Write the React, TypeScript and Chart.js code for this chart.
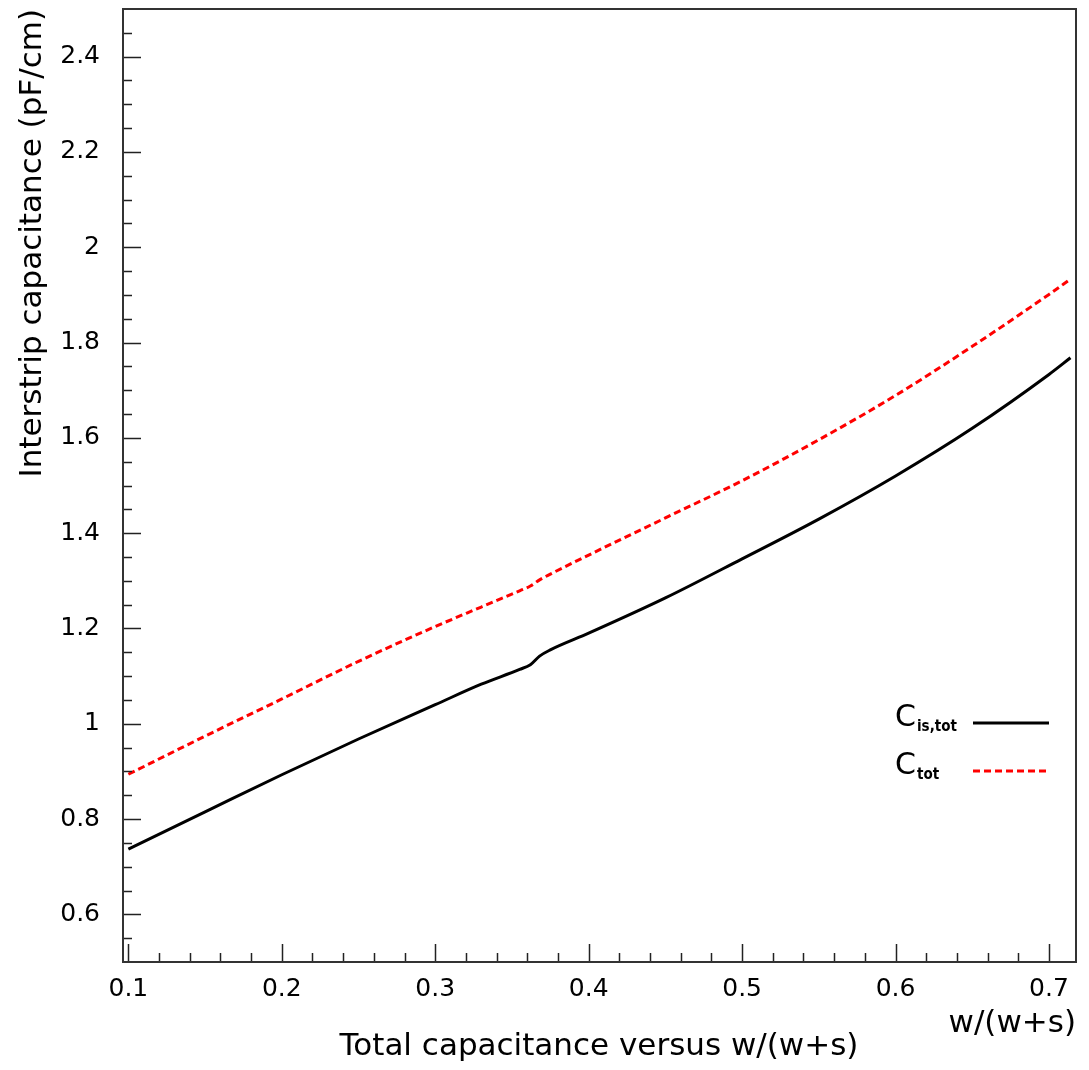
import React, { useEffect, useRef } from 'react';
import { Chart, registerables } from 'chart.js';

Chart.register(...registerables);

// ---- data ----
const xValues = [0.1, 0.15, 0.2, 0.25, 0.3, 0.33, 0.355, 0.362, 0.368, 0.375, 0.4, 0.45, 0.5, 0.55, 0.6, 0.65, 0.7, 0.714];
const cIsTot = [0.737, 0.815, 0.893, 0.968, 1.04, 1.083, 1.114, 1.124, 1.142, 1.155, 1.19, 1.264, 1.346, 1.4295, 1.52, 1.62, 1.733, 1.768];
const cTot = [0.894, 0.974, 1.052, 1.131, 1.204, 1.245, 1.279, 1.289, 1.302, 1.314, 1.354, 1.432, 1.51, 1.596, 1.689, 1.792, 1.901, 1.933];

const xMajorTicks = [0.1, 0.2, 0.3, 0.4, 0.5, 0.6, 0.7];
const yMajorTicks = [0.6, 0.8, 1, 1.2, 1.4, 1.6, 1.8, 2, 2.2, 2.4];
const xMin = 0.0965;
const xMax = 0.7176;
const yMin = 0.5;
const yMax = 2.5;
const xMinorStep = 0.02;
const yMinorStep = 0.05;

const xTitle = 'w/(w+s)';
const yTitle = 'Interstrip capacitance (pF/cm)';
const plotTitle = 'Total capacitance versus w/(w+s)';

const FONT = '"DejaVu Sans", sans-serif';

const rootPlugin = {
  id: 'rootStyle',
  afterDatasetsDraw(chart: any) {
    const { ctx, chartArea: a, scales } = chart;
    const sx = scales.x;
    const sy = scales.y;
    ctx.save();
    ctx.strokeStyle = '#222';
    ctx.lineWidth = 1.5;
    ctx.beginPath();
    const isMajor = (arr: number[], v: number) => arr.some((m) => Math.abs(m - v) < 1e-6);
    for (let i = Math.ceil(yMin / yMinorStep); i * yMinorStep <= yMax + 1e-9; i++) {
      const v = i * yMinorStep;
      if (v <= yMin + 1e-9 || v >= yMax - 1e-9) continue;
      const len = isMajor(yMajorTicks, v) ? 18 : 9;
      const py = Math.round(sy.getPixelForValue(v)) + 0.5;
      ctx.moveTo(a.left, py);
      ctx.lineTo(a.left + len, py);
    }
    for (let i = Math.ceil(xMin / xMinorStep); i * xMinorStep <= xMax + 1e-9; i++) {
      const v = i * xMinorStep;
      if (v <= xMin || v >= xMax) continue;
      const len = isMajor(xMajorTicks, v) ? 18 : 9;
      const px = Math.round(sx.getPixelForValue(v)) + 0.5;
      ctx.moveTo(px, a.bottom);
      ctx.lineTo(px, a.bottom - len);
    }
    ctx.stroke();
    ctx.strokeStyle = '#333';
    ctx.lineWidth = 2;
    ctx.strokeRect(a.left, a.top, a.right - a.left, a.bottom - a.top);
    ctx.restore();
  },
  afterDraw(chart: any) {
    const { ctx, chartArea: a } = chart;
    ctx.save();
    ctx.fillStyle = '#000';
    ctx.font = `31px ${FONT}`;
    ctx.save();
    ctx.translate(33, a.top);
    ctx.rotate(-Math.PI / 2);
    ctx.textAlign = 'right';
    ctx.textBaseline = 'middle';
    ctx.fillText(yTitle, 0, 0);
    ctx.restore();
    ctx.textAlign = 'right';
    ctx.textBaseline = 'alphabetic';
    ctx.fillText(xTitle, a.right, 1032);
    ctx.textAlign = 'center';
    ctx.fillText(plotTitle, 599, 1055);

    const entries = [
      { sub: 'is,tot', y: 723, color: '#000', dash: [] as number[] },
      { sub: 'tot', y: 771, color: '#ff0000', dash: [7, 4] },
    ];
    for (const e of entries) {
      ctx.textAlign = 'left';
      ctx.font = `30px ${FONT}`;
      ctx.fillStyle = '#000';
      ctx.fillText('C', 895, e.y + 3);
      ctx.font = `bold 15px "DejaVu Sans Condensed", ${FONT}`;
      ctx.fillText(e.sub, 917, e.y + 8);
      ctx.beginPath();
      ctx.strokeStyle = e.color;
      ctx.lineWidth = 3;
      ctx.setLineDash(e.dash);
      ctx.moveTo(973, e.y);
      ctx.lineTo(1049, e.y);
      ctx.stroke();
      ctx.setLineDash([]);
    }
    ctx.restore();
  },
};

const fmt = (v: any) => String(Number(Number(v).toFixed(2)));

const noPad = (s: any) => {
  s.paddingTop = 0;
  s.paddingBottom = 0;
  s.paddingLeft = 0;
  s.paddingRight = 0;
};

export default function App() {
  const ref = useRef<HTMLCanvasElement | null>(null);
  useEffect(() => {
    document.body.style.margin = '0';
    const canvas = ref.current;
    if (!canvas) return;
    const chart = new Chart(canvas, {
      type: 'line',
      data: {
        datasets: [
          {
            label: 'C_is,tot',
            data: xValues.map((x, i) => ({ x, y: cIsTot[i] })),
            borderColor: '#000',
            borderWidth: 3,
            pointRadius: 0,
            cubicInterpolationMode: 'monotone',
            fill: false,
          },
          {
            label: 'C_tot',
            data: xValues.map((x, i) => ({ x, y: cTot[i] })),
            borderColor: '#ff0000',
            borderWidth: 3,
            borderDash: [7, 4],
            pointRadius: 0,
            cubicInterpolationMode: 'monotone',
            fill: false,
          },
        ],
      },
      options: {
        animation: false,
        responsive: false,
        devicePixelRatio: 1,
        layout: { padding: { top: 9, right: 13, left: 0, bottom: 0 } },
        plugins: {
          legend: { display: false },
          tooltip: { enabled: false },
          title: { display: false },
        },
        scales: {
          x: {
            type: 'linear',
            position: 'bottom',
            min: xMin,
            max: xMax,
            grid: { display: false },
            border: { display: false },
            afterFit: (s: any) => {
              s.height = 108;
              noPad(s);
            },
            afterBuildTicks: (s: any) => {
              s.ticks = xMajorTicks.map((v) => ({ value: v }));
            },
            ticks: {
              autoSkip: false,
              maxRotation: 0,
              padding: 4,
              color: '#000',
              font: { family: FONT, size: 25 },
              callback: fmt,
            },
          },
          y: {
            type: 'linear',
            position: 'left',
            min: yMin,
            max: yMax,
            grid: { display: false },
            border: { display: false },
            afterFit: (s: any) => {
              s.width = 123;
              noPad(s);
            },
            afterBuildTicks: (s: any) => {
              s.ticks = yMajorTicks.map((v) => ({ value: v }));
            },
            ticks: {
              autoSkip: false,
              padding: 15,
              color: '#000',
              font: { family: FONT, size: 25 },
              callback: fmt,
            },
          },
        },
      },
      plugins: [rootPlugin],
    } as any);
    return () => chart.destroy();
  }, []);
  return (
    <div style={{ width: 1089, height: 1070, background: '#fff' }}>
      <canvas ref={ref} width={1089} height={1070} style={{ display: 'block' }} />
    </div>
  );
}
